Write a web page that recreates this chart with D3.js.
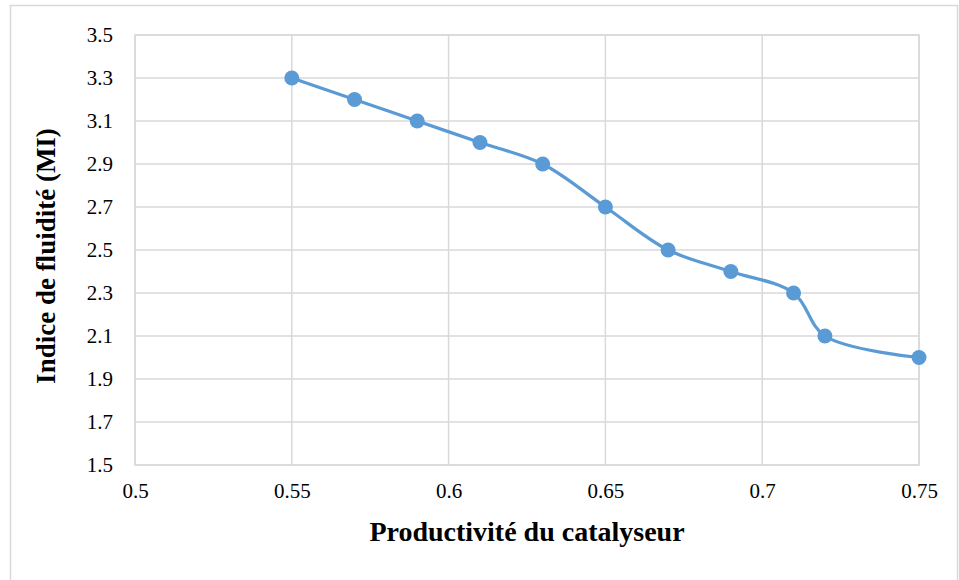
<!DOCTYPE html>
<html>
<head>
<meta charset="utf-8">
<script src="https://cdn.jsdelivr.net/npm/d3@7"></script>
<style>
  body { margin: 0; background: #fff; }
  text { font-family: "Liberation Serif", "Times New Roman", serif; fill: #000; }
</style>
</head>
<body>
<div id="chart"></div>
<script>
// data
var productivite = [0.55, 0.57, 0.59, 0.61, 0.63, 0.65, 0.67, 0.69, 0.71, 0.72, 0.75];
var indice = [3.3, 3.2, 3.1, 3.0, 2.9, 2.7, 2.5, 2.4, 2.3, 2.1, 2.0];
var xTicks = [0.5, 0.55, 0.6, 0.65, 0.7, 0.75];
var yTicks = [1.5, 1.7, 1.9, 2.1, 2.3, 2.5, 2.7, 2.9, 3.1, 3.3, 3.5];

var W = 959, H = 580;
var margin = {top: 35, right: 40, bottom: 115, left: 135},
    width = 919 - margin.left,
    height = 465 - margin.top;
var serif = "'Liberation Serif', 'Times New Roman', serif";

var svg = d3.select("#chart")
  .append("svg")
    .attr("width", W)
    .attr("height", H);

// outer chart border
svg.append("rect")
  .attr("x", 10.5).attr("y", 5.5)
  .attr("width", 947).attr("height", 600)
  .attr("fill", "none")
  .attr("stroke", "#d9d9d9")
  .attr("stroke-width", 1.5);

var g = svg.append("g")
  .attr("transform", "translate(" + margin.left + "," + margin.top + ")");

var x = d3.scaleLinear().domain([0.5, 0.75]).range([0, width]);
var y = d3.scaleLinear().domain([1.5, 3.5]).range([height, 0]);

// gridlines
g.append("g")
  .selectAll("line.h")
  .data(yTicks)
  .enter().append("line")
    .attr("x1", 0).attr("x2", width)
    .attr("y1", function(d) { return y(d); })
    .attr("y2", function(d) { return y(d); })
    .attr("stroke", "#d9d9d9")
    .attr("stroke-width", 1.5);

g.append("g")
  .selectAll("line.v")
  .data(xTicks)
  .enter().append("line")
    .attr("x1", function(d) { return x(d); })
    .attr("x2", function(d) { return x(d); })
    .attr("y1", 0).attr("y2", height)
    .attr("stroke", "#d9d9d9")
    .attr("stroke-width", 1.5);

// plot border
g.append("rect")
  .attr("width", width).attr("height", height)
  .attr("fill", "none")
  .attr("stroke", "#d9d9d9")
  .attr("stroke-width", 1.5);

// axes (labels only)
var yAxis = g.append("g")
  .call(d3.axisLeft(y).tickValues(yTicks).tickSize(0).tickPadding(22)
    .tickFormat(d3.format(".1f")));
yAxis.attr("font-family", serif).attr("font-size", 21);
yAxis.select(".domain").remove();

var xAxis = g.append("g")
  .attr("transform", "translate(0," + height + ")")
  .call(d3.axisBottom(x).tickValues(xTicks).tickSize(0).tickPadding(18)
    .tickFormat(function(d) { return String(+d.toFixed(2)); }));
xAxis.attr("font-family", serif).attr("font-size", 21);
xAxis.select(".domain").remove();

// axis titles
svg.append("text")
  .attr("x", 527)
  .attr("y", 541)
  .attr("text-anchor", "middle")
  .style("font-size", "28px")
  .style("font-weight", "bold")
  .text("Productivité du catalyseur");

svg.append("text")
  .attr("transform", "translate(55,256) rotate(-90)")
  .attr("text-anchor", "middle")
  .style("font-size", "27px")
  .style("font-weight", "bold")
  .text("Indice de fluidité (MI)");

// the smoothed line
var data = productivite.map(function(p, i) { return {p: p, v: indice[i]}; });

g.append("path")
  .datum(data)
  .attr("fill", "none")
  .attr("stroke", "#5b9bd5")
  .attr("stroke-width", 3.2)
  .attr("stroke-linejoin", "round")
  .attr("d", d3.line()
    .curve(d3.curveCatmullRom.alpha(0.5))
    .x(function(d) { return x(d.p); })
    .y(function(d) { return y(d.v); }));

g.selectAll("circle")
  .data(data)
  .enter().append("circle")
    .attr("cx", function(d) { return x(d.p); })
    .attr("cy", function(d) { return y(d.v); })
    .attr("r", 7.5)
    .attr("fill", "#5b9bd5");
</script>
</body>
</html>
